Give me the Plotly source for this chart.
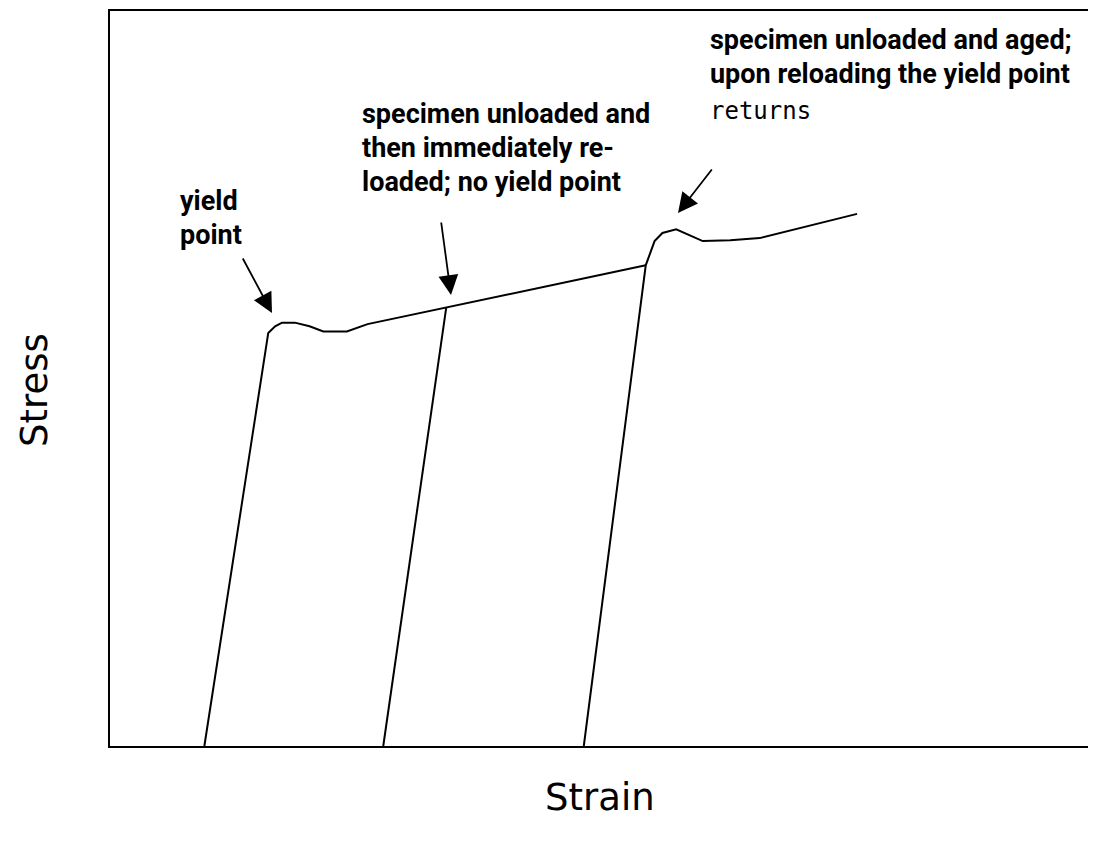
import plotly.graph_objects as go

# Curve A: initial loading, yield point, work hardening up to second unload
strain_a = [0.96, 1.61, 1.68, 1.75, 1.88, 2.03, 2.17, 2.41, 2.62, 5.45]
stress_a = [0.00, 5.62, 5.71, 5.76, 5.76, 5.71, 5.64, 5.64, 5.74, 6.54]

# Curve B: unloaded and immediately reloaded (no yield point)
strain_b = [2.78, 3.42]
stress_b = [0.00, 5.96]

# Curve C: unloaded, aged, reloaded (yield point returns)
strain_c = [4.82, 5.45, 5.54, 5.62, 5.76, 6.03, 6.31, 6.61, 7.60]
stress_c = [0.00, 6.54, 6.87, 6.98, 7.03, 6.87, 6.88, 6.91, 7.24]

fig = go.Figure()
for xs, ys in [(strain_a, stress_a), (strain_b, stress_b), (strain_c, stress_c)]:
    fig.add_trace(go.Scatter(x=xs, y=ys, mode="lines",
                             line=dict(color="black", width=2),
                             showlegend=False, hoverinfo="skip"))

txt_font = dict(family="Roboto", size=27, color="black", weight="bold")
mono_font = dict(family="DejaVu Sans Mono", size=24, color="black")

def px2x(p):
    return (p - 110) / 98.3

def py2y(p):
    return (746 - p) / 73.5

labels = [
    ("yield", 178, 201, txt_font),
    ("point", 178, 235, txt_font),
    ("specimen unloaded and", 360, 114, txt_font),
    ("then immediately re-", 360, 148, txt_font),
    ("loaded; no yield point", 360, 182, txt_font),
    ("specimen unloaded and aged;", 708, 40, txt_font),
    ("upon reloading the yield point", 708, 74, txt_font),
    ("returns", 708, 111, mono_font),
]
annotations = []
for t, px, py, f in labels:
    annotations.append(dict(text=t, x=px2x(px), y=py2y(py), xref="x", yref="y",
                            xanchor="left", yanchor="middle", showarrow=False,
                            font=f))

arrows = [((242, 257), (272, 313)), ((441, 221), (451, 295)), ((713, 168), (678, 213))]
for (tx, ty), (hx, hy) in arrows:
    annotations.append(dict(x=px2x(hx), y=py2y(hy), ax=px2x(tx), ay=py2y(ty),
                            xref="x", yref="y", axref="x", ayref="y", text="",
                            showarrow=True, arrowhead=2, arrowsize=2.2,
                            arrowwidth=1.8, arrowcolor="black"))

title_font = dict(family="DejaVu Sans", size=37, color="black")
annotations.append(dict(text="Strain", x=0.4985, y=-0.0707, xref="paper", yref="paper",
                        xanchor="center", yanchor="middle", showarrow=False, font=title_font))
annotations.append(dict(text="Stress", x=-0.0763, y=0.4844, xref="paper", yref="paper",
                        xanchor="center", yanchor="middle", showarrow=False, textangle=-90,
                        font=title_font))

fig.update_layout(
    width=1088, height=839,
    margin=dict(l=102, r=3, t=3, b=101),
    paper_bgcolor="white", plot_bgcolor="white",
    annotations=annotations,
    xaxis=dict(range=[0, 10], showgrid=False, zeroline=False, showticklabels=False,
               ticks="", showline=True, mirror=True, linecolor="black", linewidth=2,
               automargin=False),
    yaxis=dict(range=[0, 10], showgrid=False, zeroline=False, showticklabels=False,
               ticks="", showline=True, mirror=True, linecolor="black", linewidth=2,
               automargin=False),
)

fig.write_html("out.html")
